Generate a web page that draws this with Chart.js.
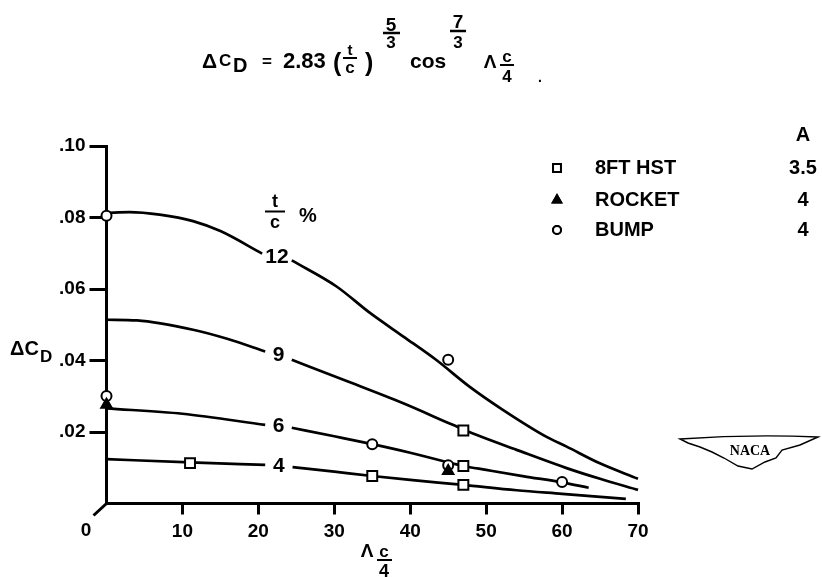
<!DOCTYPE html>
<html><head><meta charset="utf-8">
<script src="https://cdn.jsdelivr.net/npm/chart.js@4.4.1/dist/chart.umd.min.js"></script>
<style>html,body{margin:0;padding:0;background:#fff;}#wrap{width:822px;height:578px;}</style>
</head><body><div id="wrap"><canvas id="c" width="822" height="578"></canvas></div>
<script>
// ---- data ----
const sweep12 = [0, 3, 7, 11.4, 15, 20.5, 22.5, 24.4, 30.3, 34.7, 39.1, 43.4, 47.8, 52.2, 57.9, 60.6, 64.9, 70];
const cd12    = [0.0813, 0.0815, 0.0808, 0.0790, 0.0762, 0.0699, null, 0.0680, 0.0607, 0.0533, 0.0467, 0.0402, 0.0327, 0.0262, 0.0187, 0.0159, 0.0113, 0.0069];
const sweep9  = [0, 4, 11.4, 16, 20.9, 22.6, 24.4, 31.2, 39, 45.6, 48.7, 54, 60.6, 65, 70];
const cd9     = [0.0514, 0.0512, 0.0486, 0.0460, 0.0425, null, 0.0402, 0.0346, 0.0281, 0.0220, 0.0192, 0.0150, 0.0099, 0.0069, 0.0038];
const sweep6  = [0, 10, 20.9, 22.8, 24.4, 30, 35, 40, 47, 50, 55, 60, 63.5];
const cd6     = [0.0266, 0.0251, 0.0220, null, 0.0212, 0.0188, 0.0166, 0.0142, 0.0105, 0.0094, 0.0076, 0.0059, 0.0044];
const sweep4  = [0, 11, 20.9, 22.8, 24.5, 30, 35, 40, 47, 54, 60, 68.4];
const cd4     = [0.0124, 0.0115, 0.0108, null, 0.0102, 0.0089, 0.0077, 0.0066, 0.0052, 0.0037, 0.0027, 0.0013];
const curveNames = ['12', '9', '6', '4'];

const hstSweep    = [11, 35, 47, 47, 47];
const hstCd       = [0.0113, 0.0077, 0.0052, 0.0105, 0.0204];
const rocketSweep = [0, 45];
const rocketCd    = [0.0276, 0.0091];
const bumpSweep   = [0, 0, 35, 45, 45, 60];
const bumpCd      = [0.0805, 0.0301, 0.0166, 0.0402, 0.0107, 0.0060];

const testNames   = ['8FT HST', 'ROCKET', 'BUMP'];
const aspectRatio = ['3.5', '4', '4'];
const xTickValues = [0, 10, 20, 30, 40, 50, 60, 70];
const yTickValues = [0, 0.02, 0.04, 0.06, 0.08, 0.10];

// ---- build ----
const F = 'Liberation Sans, Arial, sans-serif';
const pts = (xs, ys) => xs.map((x, i) => ({x: x, y: ys[i]}));
const curves = [[sweep12, cd12], [sweep9, cd9], [sweep6, cd6], [sweep4, cd4]];
const datasets = curves.map((c, k) => ({
  type: 'line', label: curveNames[k] + '%', data: pts(c[0], c[1]),
  borderColor: '#000', borderWidth: 2.7, pointRadius: 0, spanGaps: false,
  cubicInterpolationMode: 'monotone', clip: false, order: 2
}));
const markerStyles = [
  {pointStyle: 'rect', radius: 7, bg: '#fff'},
  {pointStyle: 'triangle', radius: 6, bg: '#000'},
  {pointStyle: 'circle', radius: 5, bg: '#fff'}
];
[[hstSweep, hstCd], [rocketSweep, rocketCd], [bumpSweep, bumpCd]].forEach((s, k) => {
  datasets.push({
    type: 'scatter', label: testNames[k], data: pts(s[0], s[1]),
    pointStyle: markerStyles[k].pointStyle, pointRadius: markerStyles[k].radius,
    pointBackgroundColor: markerStyles[k].bg, pointBorderColor: '#000', pointBorderWidth: 2,
    clip: false, order: 1
  });
});

function t(ctx, s, x, y, size, align, base, family) {
  ctx.font = 'bold ' + size + 'px ' + (family || F);
  ctx.textAlign = align || 'left';
  ctx.textBaseline = base || 'alphabetic';
  ctx.fillText(s, x, y);
}
function bar(ctx, x1, x2, y, w) {
  ctx.beginPath(); ctx.lineWidth = w || 2; ctx.moveTo(x1, y); ctx.lineTo(x2, y); ctx.stroke();
}

const decor = {
  id: 'decor',
  afterDatasetsDraw(chart) {
    const ctx = chart.ctx, xs = chart.scales.x, ys = chart.scales.y;
    ctx.save();
    ctx.fillStyle = '#000'; ctx.strokeStyle = '#000';
    // curve labels placed in the gap of each curve
    curves.forEach((c, k) => {
      const gi = c[1].indexOf(null);
      const xv = (c[0][gi - 1] + c[0][gi + 1]) / 2;
      const yv = (c[1][gi - 1] + c[1][gi + 1]) / 2;
      t(ctx, curveNames[k], xs.getPixelForValue(xv), ys.getPixelForValue(yv), 21, 'center', 'middle');
    });
    // t/c %
    t(ctx, 't', 275, 207, 18, 'center');
    bar(ctx, 265, 285, 211.5, 2);
    t(ctx, 'c', 275, 228, 18, 'center');
    t(ctx, '%', 308, 222, 20, 'center');
    // origin "0" and slanted stub
    ctx.lineWidth = 3; ctx.beginPath();
    ctx.moveTo(xs.getPixelForValue(0), ys.getPixelForValue(0));
    ctx.lineTo(xs.getPixelForValue(0) - 13, ys.getPixelForValue(0) + 12); ctx.stroke();
    t(ctx, '0', 86, 531, 19, 'center', 'middle');
    // x-axis title  Λ c/4
    t(ctx, 'Λ', 367, 557, 19, 'center');
    t(ctx, 'c', 384, 557, 17, 'center');
    bar(ctx, 377, 392, 560, 2);
    t(ctx, '4', 384, 577, 18, 'center');
    // y-axis title ΔCD
    t(ctx, 'ΔC', 10, 355, 20, 'left');
    t(ctx, 'D', 40, 362, 17, 'left');
    // title formula
    t(ctx, 'Δ', 202, 68, 21);
    t(ctx, 'C', 219, 66, 17);
    t(ctx, 'D', 233, 72, 20);
    t(ctx, '=', 262, 67, 17);
    t(ctx, '2.83', 283, 68, 22);
    t(ctx, '(', 333, 71, 25, 'left', 'alphabetic');
    t(ctx, 't', 350, 55, 15, 'center');
    bar(ctx, 343, 357, 58, 2);
    t(ctx, 'c', 350, 73, 17, 'center');
    t(ctx, ')', 365, 71, 25);
    t(ctx, '5', 391, 31, 19, 'center');
    bar(ctx, 383, 400, 33, 2.5);
    t(ctx, '3', 391, 48, 17, 'center');
    t(ctx, 'cos', 410, 68, 21);
    t(ctx, '7', 458, 28, 19, 'center');
    bar(ctx, 450, 466, 31, 2.5);
    t(ctx, '3', 458, 48, 17, 'center');
    t(ctx, 'Λ', 490, 68, 19, 'center');
    t(ctx, 'c', 507, 62, 17, 'center');
    bar(ctx, 500, 514, 65, 2);
    t(ctx, '4', 507, 82, 17, 'center');
    t(ctx, '.', 540, 82, 14, 'center');
    // legend
    t(ctx, 'A', 803, 135, 20, 'center', 'middle');
    const rows = [168, 200, 230];
    testNames.forEach((n, k) => {
      const m = markerStyles[k];
      ctx.fillStyle = m.bg;
      Chart.helpers.drawPoint(ctx, {pointStyle: m.pointStyle, radius: m.radius * 0.8, borderWidth: 2, rotation: 0}, 557, rows[k]);
      ctx.fill(); ctx.stroke();
      ctx.fillStyle = '#000';
      t(ctx, n, 595, rows[k], 20, 'left', 'middle');
      t(ctx, aspectRatio[k], 803, rows[k], 20, 'center', 'middle');
    });
    // NACA wing mark
    ctx.lineWidth = 1.4; ctx.beginPath();
    ctx.moveTo(680, 439); ctx.quadraticCurveTo(750, 434, 818, 437);
    ctx.lineTo(800, 445); ctx.lineTo(782, 450); ctx.lineTo(776, 458); ctx.lineTo(765, 462);
    ctx.lineTo(752, 469); ctx.lineTo(738, 466); ctx.lineTo(724, 458); ctx.lineTo(712, 452);
    ctx.lineTo(700, 447); ctx.lineTo(688, 443); ctx.closePath(); ctx.stroke();
    t(ctx, 'NACA', 750, 451, 14, 'center', 'middle', 'Liberation Serif, serif');
    ctx.restore();
  }
};

new Chart(document.getElementById('c'), {
  data: {datasets: datasets},
  options: {
    responsive: false, animation: false, devicePixelRatio: 1,
    layout: {padding: {left: 0, top: 146, right: 184, bottom: 0}},
    plugins: {legend: {display: false}, tooltip: {enabled: false}},
    scales: {
      x: {
        type: 'linear', min: 0, max: 70,
        afterFit: s => { s.height = 74.5; },
        afterBuildTicks: s => { s.ticks = xTickValues.map(v => ({value: v})); },
        border: {display: true, color: '#000', width: 3},
        grid: {drawOnChartArea: false, drawTicks: true, tickLength: 11, lineWidth: 3,
               color: c => (c.tick && c.tick.value === 0) ? 'rgba(0,0,0,0)' : '#000'},
        ticks: {color: '#000', padding: 6, maxRotation: 0, autoSkip: false,
                font: {family: F, weight: 'bold', size: 19},
                callback: v => v === 0 ? '' : String(v)}
      },
      y: {
        type: 'linear', min: 0, max: 0.10,
        afterFit: s => { s.width = 106.5; },
        afterBuildTicks: s => { s.ticks = yTickValues.map(v => ({value: v})); },
        border: {display: true, color: '#000', width: 3},
        grid: {drawOnChartArea: false, drawTicks: true, tickLength: 17, lineWidth: 3,
               color: c => (c.tick && c.tick.value === 0) ? 'rgba(0,0,0,0)' : '#000'},
        ticks: {color: '#000', padding: 4, autoSkip: false,
                font: {family: F, weight: 'bold', size: 19},
                callback: v => v === 0 ? '' : v.toFixed(2).replace(/^0/, '')}
      }
    }
  },
  plugins: [decor]
});
</script></body></html>
